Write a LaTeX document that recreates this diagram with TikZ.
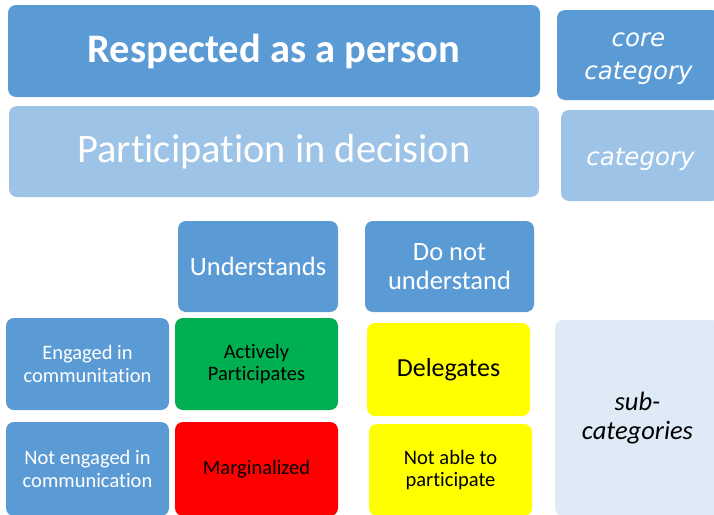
\documentclass[tikz,border=0pt]{standalone}
\usepackage{fontspec}
\setmainfont{Carlito}[Ligatures=NoCommon]
\newfontfamily\dvs{DejaVu Sans}
\definecolor{midblue}{HTML}{5B9BD5}
\definecolor{lightblue}{HTML}{9DC3E6}
\definecolor{paleblue}{HTML}{DEEBF7}
\definecolor{okgreen}{HTML}{00B050}
\definecolor{alarmred}{HTML}{FF0000}
\definecolor{warnyellow}{HTML}{FFFF00}
\tikzset{
  tile/.style={rectangle, rounded corners=8pt, inner sep=0pt, align=center, draw=none},
  bluetile/.style={tile, fill=midblue, text=white},
  smalltext/.style={font=\fontsize{20.5}{22.5}\selectfont},
  midtext/.style={font=\fontsize{26.5}{29}\selectfont},
  legendtext/.style={text=white, align=center, yshift=-3.5pt, font=\dvs\itshape\fontsize{24.5}{33}\selectfont},
}
\begin{document}
\begin{tikzpicture}[x=1pt,y=-1pt]
\useasboundingbox (0,0) rectangle (714,514);
\clip (0,0) rectangle (714,514);
% top rows
\node[bluetile, minimum width=532pt, minimum height=92pt, font=\fontsize{40.5}{44}\selectfont\bfseries] (resp) at (274,51) {Respected as a person};
\node[bluetile, minimum width=163pt, minimum height=90pt, label={[legendtext]center:core\\category}] (core) at (638.5,55) {};
\node[tile, fill=lightblue, text=white, minimum width=530pt, minimum height=91pt, font=\fontsize{40.5}{44}\selectfont] (part) at (274,151.5) {Participation in decision};
\node[tile, fill=lightblue, minimum width=159pt, minimum height=91pt, label={[legendtext]center:category}] (cat) at (640.5,155.5) {};
% column headers
\node[bluetile, minimum width=160pt, minimum height=91pt, midtext] (und) at (258,266.5) {Understands};
\node[bluetile, minimum width=169pt, minimum height=91pt, midtext] (dnu) at (449.5,266.5) {Do not\\understand};
% row headers
\node[bluetile, minimum width=163pt, minimum height=92pt, smalltext] (eng) at (87.5,364) {Engaged in\\communitation};
\node[bluetile, minimum width=163pt, minimum height=94pt, smalltext] (noteng) at (87.5,469) {Not engaged in\\communication};
% cells
\node[tile, fill=okgreen, minimum width=163pt, minimum height=92pt, smalltext] (act) at (256.5,364) {Actively\\Participates};
\node[tile, fill=alarmred, minimum width=163pt, minimum height=94pt, smalltext] (marg) at (256.5,469) {Marginalized};
\node[tile, fill=warnyellow, minimum width=163pt, minimum height=93pt, font=\fontsize{26}{29}\selectfont] (del) at (448.5,369.5) {Delegates};
\node[tile, fill=warnyellow, minimum width=163pt, minimum height=92pt, smalltext] (notable) at (450.5,470) {Not able to\\participate};
% side label
\node[tile, fill=paleblue, minimum width=165pt, minimum height=196pt, font=\itshape\fontsize{26.5}{29}\selectfont] (sub) at (637.5,418) {sub-\\categories};
\end{tikzpicture}
\end{document}
